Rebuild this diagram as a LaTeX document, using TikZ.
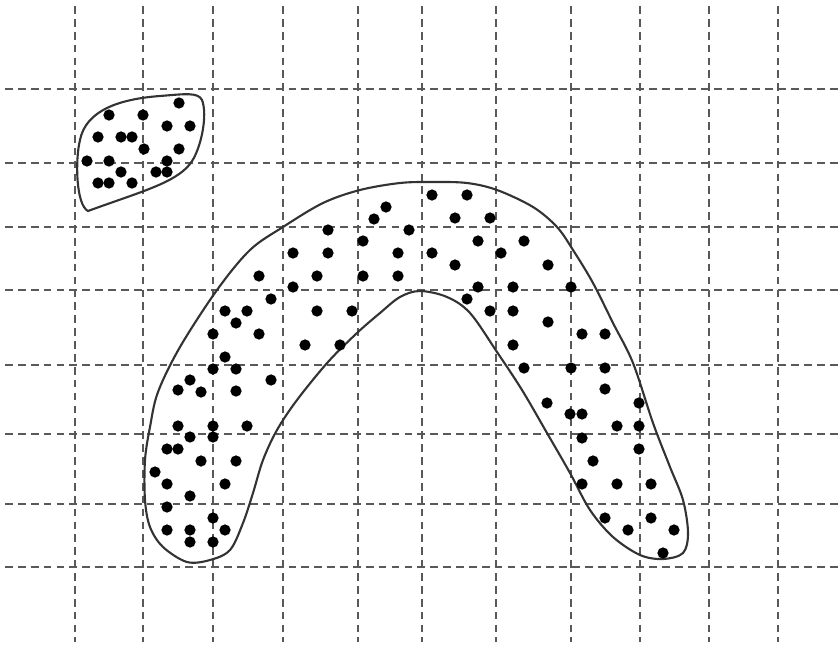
\documentclass[tikz,border=0pt]{standalone}
\usepackage{tikz}

\begin{document}
\begin{tikzpicture}[x=0.03cm,y=-0.03cm,
    gridline/.style={black!65,line width=1.6pt,dash pattern=on 6.6pt off 4.4pt},
    outline/.style={black!80,line width=1.8pt},
    dot/.style={fill=black}]
  \useasboundingbox (0,0) rectangle (840,647);

  % dashed grid
  \foreach \gx in {75,143,213,283,358,422,496,571,640,709,778}
    \draw[gridline] (\gx,6) -- (\gx,642);
  \foreach \gy in {89,163,227,290,365,434,504,567}
    \draw[gridline] (5,\gy) -- (838,\gy);

  % small cluster
  \draw[outline] (88,211) .. controls (76,205) and (75,160) .. (80,140)
    .. controls (86,110) and (120,99) .. (160,96)
    .. controls (185,94) and (198,92) .. (202,100)
    .. controls (208,115) and (201,150) .. (190,164)
    .. controls (175,183) and (140,192) .. (88,211) -- cycle;
  \foreach \p in {(179,103),(109,115),(143,115),(167,126),(190,126),
                  (98,137),(121,137),(132,137),(144,149),(179,149),
                  (87,161),(109,161),(167,161),(121,172),(156,172),
                  (167,172),(98,183),(109,183),(132,183)}
    \fill[dot] \p circle (4.8pt);

  % large arch-shaped cluster
  \draw[outline] plot[smooth cycle,tension=0.55] coordinates {
    (187,562) (163,547) (150,527) (145,500) (145,460) (150,427)
    (158,392) (180,347) (217,290) (250,250) (283,227) (323,203)
    (360,190) (400,183) (433,182) (467,183) (497,190) (533,207)
    (557,227) (573,250) (593,283) (613,323) (633,363) (653,423)
    (670,467) (683,500) (688,533) (683,553) (663,559) (640,555)
    (613,537) (590,510) (570,473) (547,433) (522,390) (497,352)
    (470,313) (447,297) (420,291) (400,297) (380,313)
    (357,333) (328,362) (297,400) (277,430) (263,460) (253,493)
    (243,523) (230,550) (210,560)};
  \foreach \p in {(432,195),(467,195),(386,207),(374,219),(455,218),
                  (490,218),(328,230),(409,230),(363,241),(478,241),
                  (524,241),(293,253),(328,253),(398,253),(432,253),
                  (501,253),(455,265),(548,265),(259,276),(317,276),
                  (363,276),(398,276),(293,287),(478,287),(513,287),
                  (571,287),(271,299),(467,299),(225,311),(247,311),
                  (317,311),(352,311),(490,311),(513,311),(236,323),
                  (548,322),(213,334),(259,334),(582,334),(605,334),
                  (305,345),(340,345),(513,345),(225,357),(213,369),
                  (236,369),(524,368),(571,368),(605,368),(190,380),
                  (271,380),(178,390),(201,392),(236,391),(605,389),
                  (547,403),(639,403),(570,414),(582,414),(617,426),
                  (639,426),(178,426),(213,426),(247,426),(190,437),
                  (213,437),(582,438),(167,449),(178,449),(639,449),
                  (201,461),(236,461),(593,461),(155,472),(167,484),
                  (225,484),(582,484),(617,484),(651,484),(190,496),
                  (167,507),(213,518),(605,518),(651,518),(167,530),
                  (190,530),(225,530),(628,530),(674,530),(190,542),
                  (213,542),(663,553)}
    \fill[dot] \p circle (4.8pt);
\end{tikzpicture}
\end{document}
